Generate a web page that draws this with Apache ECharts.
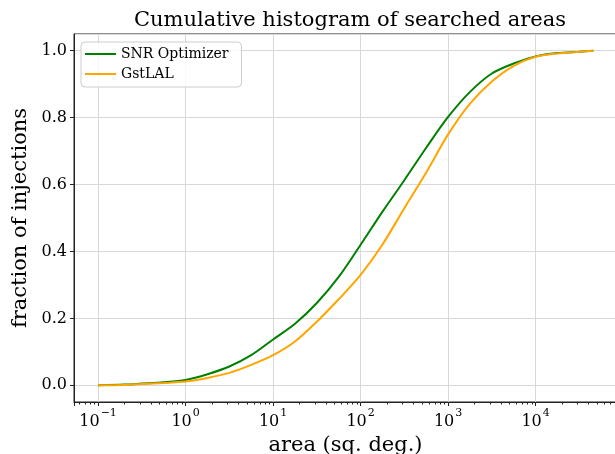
<!DOCTYPE html>
<html>
<head>
<meta charset="utf-8">
<script src="https://cdn.jsdelivr.net/npm/echarts@6/dist/echarts.min.js"></script>
<style>
  html, body { margin: 0; padding: 0; background: #fff; }
  #chart { width: 615px; height: 454px; }
</style>
</head>
<body>
<div id="chart"></div>
<script>
// Searched area (sq. deg.) at which each cumulative fraction is read
const areas = [0.1, 0.2, 0.316, 0.562, 1, 1.78, 3.16, 5.62, 10, 17.8, 31.6, 56.2,
  100, 178, 316, 562, 1000, 1780, 3160, 5620, 10000, 17800, 31600, 45700];

// Cumulative fraction of injections, SNR Optimizer
const snrOptimizer = [0.000, 0.002, 0.005, 0.009, 0.016, 0.033, 0.056, 0.090, 0.137, 0.184, 0.246, 0.324,
  0.420, 0.519, 0.613, 0.710, 0.802, 0.877, 0.932, 0.962, 0.983, 0.993, 0.997, 1.000];

// Cumulative fraction of injections, GstLAL
const gstlal = [0.000, 0.001, 0.004, 0.007, 0.011, 0.022, 0.037, 0.061, 0.090, 0.131, 0.190, 0.257,
  0.330, 0.421, 0.529, 0.636, 0.750, 0.842, 0.908, 0.955, 0.982, 0.992, 0.997, 1.000];

const seriesNames = ['SNR Optimizer', 'GstLAL'];
const yTickLabels = ['0.0', '0.2', '0.4', '0.6', '0.8', '1.0'];

const FONT = 'DejaVu Serif';
const X_MIN = 0.0531, X_MAX = 85100;
const Y_MIN = -0.05, Y_MAX = 1.05;

// minor tick positions of the log axis: 2..9 times each decade
const minorTicks = [];
for (let d = -2; d <= 4; d++) {
  for (let k = 2; k <= 9; k++) {
    const v = k * Math.pow(10, d);
    if (v > X_MIN && v < X_MAX) minorTicks.push([v, Y_MIN]);
  }
}

const supMap = { '-': '\u2212' };
function powerLabel(value) {
  const e = Math.log10(value);
  const r = Math.round(e);
  if (Math.abs(e - r) > 1e-6) return '';
  const exp = String(r).split('').map(c => supMap[c] || c).join('');
  return '{b|10}{s|' + exp + '}';
}

const chart = echarts.init(document.getElementById('chart'), null, { renderer: 'canvas' });

chart.setOption({
  backgroundColor: '#ffffff',
  animation: false,
  title: {
    text: 'Cumulative histogram of searched areas',
    left: 345, top: 5, textAlign: 'center',
    textStyle: { fontFamily: FONT, fontSize: 21, fontWeight: 'normal', color: '#000' }
  },
  grid: {
    left: 74, top: 34, right: -2, bottom: 52,
    outerBoundsMode: 'none', containLabel: false,
    show: true, borderColor: '#222', borderWidth: 1
  },
  legend: {
    left: 81, top: 42, orient: 'vertical',
    data: seriesNames,
    icon: 'rect',
    itemWidth: 31, itemHeight: 2, itemGap: 4,
    padding: [4, 13, 5, 4],
    backgroundColor: 'rgba(255,255,255,0.85)',
    borderColor: '#cccccc', borderWidth: 1, borderRadius: 4,
    textStyle: { fontFamily: FONT, fontSize: 14, color: '#000', lineHeight: 16 }
  },
  xAxis: {
    type: 'log', logBase: 10, min: X_MIN, max: X_MAX,
    name: 'area (sq. deg.)', nameLocation: 'middle', nameGap: 31,
    nameTextStyle: { fontFamily: FONT, fontSize: 21, color: '#000' },
    axisLine: { show: true, onZero: false, lineStyle: { color: '#222', width: 1 } },
    axisTick: { show: true, inside: false, length: 4, lineStyle: { color: '#222' } },
    minorTick: { show: false },
    splitLine: { show: true, lineStyle: { color: '#d8d8d8', width: 1 } },
    axisLabel: {
      margin: 6, color: '#000', fontFamily: FONT,
      formatter: powerLabel,
      rich: {
        b: { fontFamily: FONT, fontSize: 16, color: '#000', lineHeight: 22, verticalAlign: 'bottom' },
        s: { fontFamily: FONT, fontSize: 11, color: '#000', verticalAlign: 'top', padding: [0, 0, 0, 1] }
      }
    }
  },
  yAxis: {
    type: 'value', min: Y_MIN, max: Y_MAX, splitNumber: 5,
    name: 'fraction of injections', nameLocation: 'middle', nameGap: 40,
    nameTextStyle: { fontFamily: FONT, fontSize: 21, color: '#000' },
    axisLine: { show: true, lineStyle: { color: '#222', width: 1 } },
    axisTick: { show: true, inside: false, length: 4, lineStyle: { color: '#222' } },
    splitLine: { show: true, lineStyle: { color: '#d8d8d8', width: 1 } },
    axisLabel: {
      margin: 7, color: '#000', fontFamily: FONT, fontSize: 16,
      showMinLabel: false, showMaxLabel: false,
      formatter: v => {
        const i = Math.round(v / 0.2);
        return Math.abs(v - i * 0.2) < 1e-6 && yTickLabels[i] !== undefined ? yTickLabels[i] : '';
      }
    }
  },
  series: [
    {
      name: seriesNames[0], type: 'line', symbol: 'none', smooth: 0.3,
      data: areas.map((a, i) => [a, snrOptimizer[i]]),
      lineStyle: { color: '#008000', width: 2 }, itemStyle: { color: '#008000' }, z: 3
    },
    {
      name: seriesNames[1], type: 'line', symbol: 'none', smooth: 0.3,
      data: areas.map((a, i) => [a, gstlal[i]]),
      lineStyle: { color: '#ffa500', width: 2 }, itemStyle: { color: '#ffa500' }, z: 4
    },
    {
      // minor ticks under the log x axis
      type: 'custom', silent: true, clip: false, z: 5,
      data: minorTicks,
      renderItem: (params, api) => {
        const p = api.coord([api.value(0), api.value(1)]);
        return {
          type: 'line',
          shape: { x1: Math.round(p[0]) + 0.5, y1: p[1], x2: Math.round(p[0]) + 0.5, y2: p[1] + 2.5 },
          style: { stroke: '#222', lineWidth: 1 }
        };
      }
    }
  ]
});
</script>
</body>
</html>
